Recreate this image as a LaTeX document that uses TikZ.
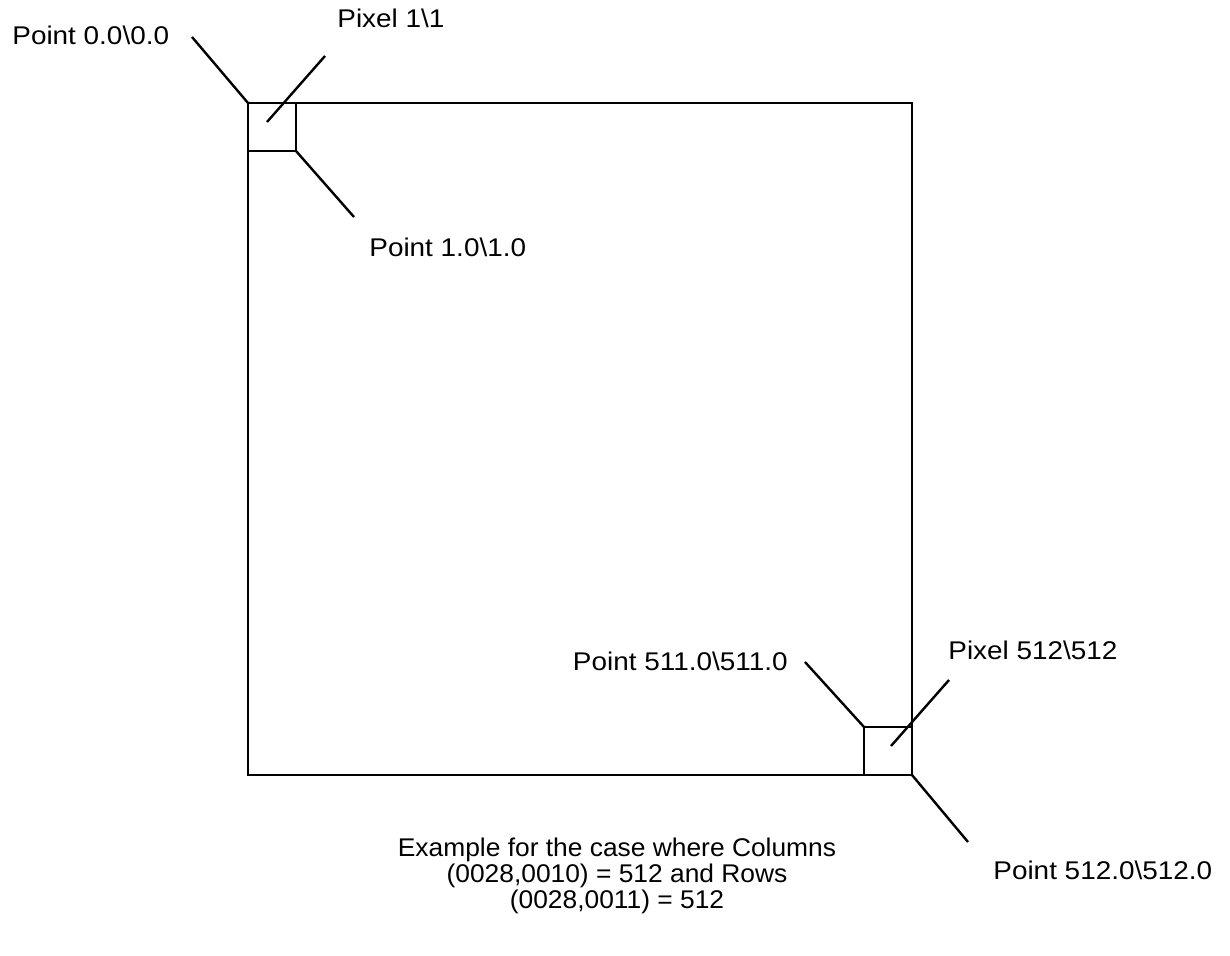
\documentclass[tikz,border=0pt]{standalone}
\usepackage{fontspec}
\setmainfont{Liberation Sans}
\newfontfamily\lblfont[FakeStretch=1.09]{Liberation Sans}
\newfontfamily\capfont[FakeStretch=1.03]{Liberation Sans}
\usetikzlibrary{positioning}
\tikzset{
  frame/.style={draw, line width=1.4pt, inner sep=0pt, outer sep=0pt},
  pixbox/.style={draw, line width=1.3pt, minimum size=24pt, inner sep=0pt, outer sep=0pt},
  leader/.style={draw, line width=1.2pt},
  lbl/.style={font=\lblfont\fontsize{12.8}{15}\selectfont, inner sep=0pt, anchor=base west},
  captext/.style={font=\capfont\fontsize{12.8}{13}\selectfont, align=center, inner sep=0pt}
}

\begin{document}
\begin{tikzpicture}[x=0.5pt, y=-0.5pt]
  \useasboundingbox (0,0) rectangle (1230,956);

  % image area and its first / last pixel
  \node[frame, minimum width=332pt, minimum height=336pt, anchor=north west] (img) at (248,103) {};
  \node[pixbox, anchor=north west] (pxfirst) at (img.north west) {};
  \node[pixbox, anchor=south east] (pxlast) at (img.south east) {};

  % labels
  \node[lbl] (ptzero) at (12,45) {Point 0.0\textbackslash 0.0};
  \node[lbl] (pxone) at (337,28) {Pixel 1\textbackslash 1};
  \node[lbl] (ptone) at (369,257) {Point 1.0\textbackslash 1.0};
  \node[lbl, anchor=base east] (ptlow) at (788,670) {Point 511.0\textbackslash 511.0};
  \node[lbl] (pxlastlbl) at (948,659) {Pixel 512\textbackslash 512};
  \node[lbl] (pthigh) at (993,879) {Point 512.0\textbackslash 512.0};
  \node[captext] (note) at (617,876) {Example for the case where Columns\\(0028,0010) = 512 and Rows\\(0028,0011) = 512};

  % leader ends
  \coordinate (ptzeroEnd) at (192,37);
  \coordinate (pxoneTip) at (267,122);
  \coordinate (pxoneEnd) at (325,56);
  \coordinate (ptoneEnd) at (354,217);
  \coordinate (ptlowEnd) at (805,662);
  \coordinate (pxlastTip) at (891,746);
  \coordinate (pxlastEnd) at (949,680);
  \coordinate (pthighEnd) at (968,842);

  \draw[leader] (pxfirst.north west) -- (ptzeroEnd);
  \draw[leader] (pxoneTip) -- (pxoneEnd);
  \draw[leader] (pxfirst.south east) -- (ptoneEnd);
  \draw[leader] (pxlast.north west) -- (ptlowEnd);
  \draw[leader] (pxlastTip) -- (pxlastEnd);
  \draw[leader] (pxlast.south east) -- (pthighEnd);
\end{tikzpicture}
\end{document}
